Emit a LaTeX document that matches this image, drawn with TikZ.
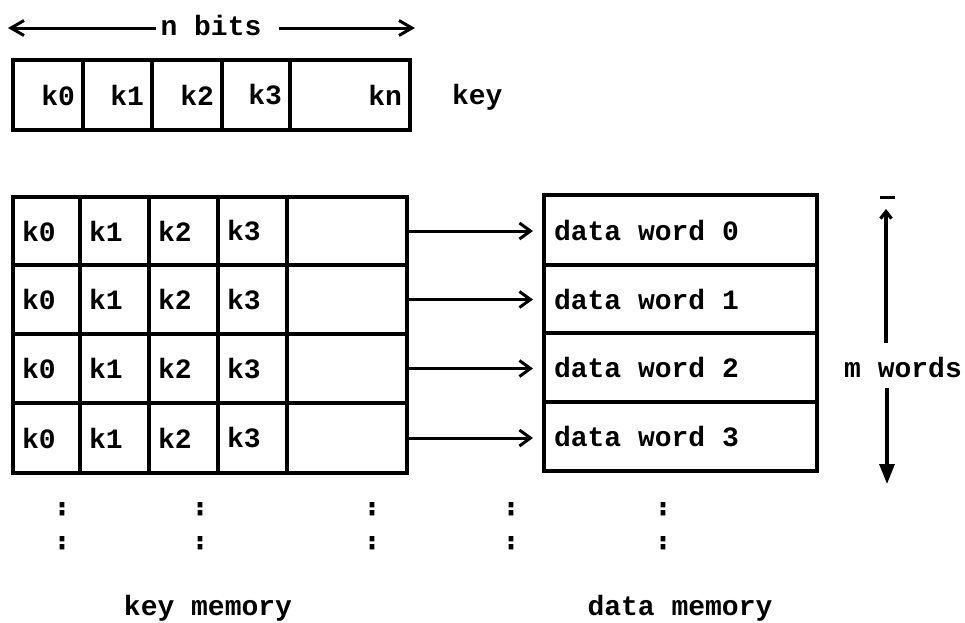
\documentclass[tikz,border=0pt]{standalone}
\usepackage{fontspec}
\setmonofont{Liberation Mono}
\newfontfamily\dotfont[FakeBold=4]{DejaVu Sans Mono}
\usetikzlibrary{arrows.meta}
\begin{document}
\begin{tikzpicture}[x=1pt,y=-1pt,
  every node/.style={inner sep=0pt, outer sep=0pt},
  txt/.style={font=\ttfamily\bfseries\fontsize{28}{30}\selectfont},
  dots/.style={font=\dotfont\bfseries\fontsize{24}{26}\selectfont},
  cellbox/.style={draw, line width=3.4pt},
  link/.style={line width=3pt, shorten >=11pt,
    -{Straight Barb[length=11pt,width=16pt,line width=3pt]}},
  bitarrow/.style={line width=3pt,
    -{Straight Barb[length=13pt,width=15pt,line width=3pt]}},
  upbarb/.style={line width=3.2pt,
    -{Straight Barb[length=7pt,width=11pt,line width=3.2pt]}},
  downhead/.style={line width=3.2pt,
    -{Triangle[length=20pt,width=15pt]}}]
\useasboundingbox (0,0) rectangle (965,622);

% width of the key, n bits
\node[txt, anchor=base] (nbits) at (211,35) {n bits};
\coordinate (nbL) at (8,28);
\coordinate (nbR) at (415,28);
\draw[bitarrow] ([xshift=-5pt]nbits.west |- nbL) -- (nbL);
\draw[bitarrow] ([xshift=18pt]nbits.east |- nbR) -- (nbR);

% the key register
\foreach \col/\xl/\xr/\t in {1/13/83/k0, 2/83/152/k1, 3/152/222/k2, 4/222/290/k3, 5/290/410/kn} {
  \node[cellbox, minimum width={\xr-\xl}, minimum height=70] (key\col) at ({(\xl+\xr)/2},95) {};
  \node[txt, anchor=east] (keyt\col) at ([xshift=-8pt]key\col.east) {\t};
}
\node[txt, anchor=west] (keylabel) at (452,97) {key};

% key memory: four words of key bits
\foreach \row/\yt/\yb in {1/197/265, 2/265/334, 3/334/403, 4/403/473} {
  \foreach \col/\xl/\xr in {1/13/80, 2/80/149, 3/149/218, 4/218/287, 5/287/407} {
    \node[cellbox, minimum width={\xr-\xl}, minimum height={\yb-\yt}]
      (km\row\col) at ({(\xl+\xr)/2},{(\yt+\yb)/2}) {};
  }
  \foreach \col/\t in {1/k0, 2/k1, 3/k2, 4/k3} {
    \node[txt, anchor=west] (kmt\row\col) at ([xshift=9pt]km\row\col.west) {\t};
  }
}

% data memory
\foreach \row/\yt/\yb/\w in {1/195/265/0, 2/265/333/1, 3/333/402/2, 4/402/471/3} {
  \node[cellbox, minimum width=273, minimum height={\yb-\yt}]
    (dw\row) at (680.5,{(\yt+\yb)/2}) {};
  \node[txt, anchor=west] (dwt\row) at ([xshift=10pt]dw\row.west) {data word \w};
}

% each key word selects its data word
\foreach \row in {1,...,4} {
  \draw[link] (km\row5.east) -- (km\row5.east -| dw\row.west);
}

% size of the memories, m words
\node[txt, anchor=base] (mwords) at (903,377) {m words};
\coordinate (mUpFrom) at (886,343);
\coordinate (mUpTo) at (886,209);
\coordinate (mBarL) at (880,197);
\coordinate (mBarR) at (895,197);
\coordinate (mDownFrom) at (887,388);
\coordinate (mDownTo) at (887,484);
\draw[upbarb] (mUpFrom) -- (mUpTo);
\draw[line width=3pt] (mBarL) -- (mBarR);
\draw[downhead] (mDownFrom) -- (mDownTo);

% continuation marks below both memories
\foreach \x [count=\i] in {62,200,372,511,663} {
  \node[dots, anchor=base] (dotsA\i) at (\x,515) {:};
  \node[dots, anchor=base] (dotsB\i) at (\x,549) {:};
}

% memory captions
\node[txt, anchor=base] (kmcap) at (208,615) {key memory};
\node[txt, anchor=base] (dmcap) at (680,615) {data memory};
\end{tikzpicture}
\end{document}
